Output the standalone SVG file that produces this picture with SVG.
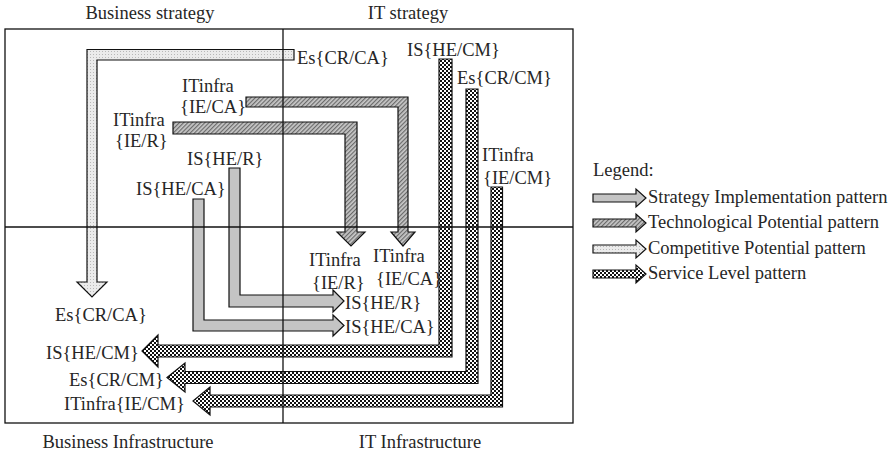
<svg xmlns="http://www.w3.org/2000/svg" width="895" height="452" viewBox="0 0 895 452">
<style>
text{font-family:"Liberation Serif","Times New Roman",serif;font-size:18.5px;fill:#262626}
.ttl{text-anchor:middle}
.frame{fill:none;stroke:#111;stroke-width:1.3}
.arr{stroke:#111;stroke-width:1.2;stroke-linejoin:miter}
.si{fill:#c4c4c4}
.tp{fill:url(#hatch)}
.cp{fill:url(#dots)}
.sl{fill:url(#checker)}
</style>
<defs>
<pattern id="checker" width="4" height="4" patternUnits="userSpaceOnUse">
<rect width="4" height="4" fill="#fff"/>
<rect x="0" y="0" width="2" height="2" fill="#111"/>
<rect x="2" y="2" width="2" height="2" fill="#111"/>
</pattern>
<pattern id="hatch" width="3" height="3" patternUnits="userSpaceOnUse" patternTransform="rotate(45)">
<rect width="3" height="3" fill="#c8c8c8"/>
<rect width="1.2" height="3" fill="#6a6a6a"/>
</pattern>
<pattern id="dots" width="3" height="3" patternUnits="userSpaceOnUse">
<rect width="3" height="3" fill="#ebebeb"/>
<rect width="1" height="1" fill="#b8b8b8"/>
</pattern>
</defs>

<g id="connectors">
<path class="arr cp" d="M294,49.5 L87,49.5 L87,282 L77,282 L92,297 L107,282 L97,282 L97,60 L294,60 Z"/>
<path class="arr tp" d="M246,97 L408,97 L408,232 L415,232 L403,246 L391,232 L398,232 L398,107 L246,107 Z"/>
<path class="arr tp" d="M173,122 L357,122 L357,232 L365,232 L351,246 L337,232 L345,232 L345,134 L173,134 Z"/>
<path class="arr si" d="M229,168 L240,168 L240,295 L333,295 L333,290 L344,301 L333,312 L333,307 L229,307 Z"/>
<path class="arr si" d="M193,199 L204,199 L204,320 L333,320 L333,315 L344,325.5 L333,336 L333,331 L193,331 Z"/>
<path class="arr sl" d="M439,59 L452,59 L452,357 L158,357 L158,367 L142,351 L158,335 L158,345 L439,345 Z"/>
<path class="arr sl" d="M466,89 L478,89 L478,383.5 L185,383.5 L185,392 L167,377.5 L185,363 L185,371.5 L466,371.5 Z"/>
<path class="arr sl" d="M491,187 L502.5,187 L502.5,407 L210,407 L210,415 L193,401 L210,387 L210,395 L491,395 Z"/>
</g>

<g id="frame">
<rect class="frame" x="5" y="29" width="568" height="394"/>
<line class="frame" x1="283" y1="29" x2="283" y2="423"/>
<line class="frame" x1="5" y1="227" x2="573" y2="227"/>
</g>

<g id="quadrant-titles">
<text class="ttl" x="150" y="19">Business strategy</text>
<text class="ttl" x="408" y="19">IT strategy</text>
<text class="ttl" x="128" y="448">Business Infrastructure</text>
<text class="ttl" x="420" y="448">IT Infrastructure</text>
</g>

<g id="src-es-cr-ca"><text x="297" y="64">Es{CR/CA}</text></g>
<g id="src-itinfra-ie-ca"><text x="182" y="92">ITinfra</text><text x="180" y="113">{IE/CA}</text></g>
<g id="src-itinfra-ie-r"><text x="113" y="126">ITinfra</text><text x="115" y="147">{IE/R}</text></g>
<g id="src-is-he-r"><text x="187" y="165">IS{HE/R}</text></g>
<g id="src-is-he-ca"><text x="136" y="195">IS{HE/CA}</text></g>
<g id="src-is-he-cm"><text x="407" y="56">IS{HE/CM}</text></g>
<g id="src-es-cr-cm"><text x="457" y="84">Es{CR/CM}</text></g>
<g id="src-itinfra-ie-cm"><text x="482" y="161">ITinfra</text><text x="483" y="184">{IE/CM}</text></g>

<g id="dst-itinfra-ie-r"><text x="309" y="266">ITinfra</text><text x="312" y="289">{IE/R}</text></g>
<g id="dst-itinfra-ie-ca"><text x="373" y="262">ITinfra</text><text x="376" y="285">{IE/CA}</text></g>
<g id="dst-is-he-r"><text x="345" y="309">IS{HE/R}</text></g>
<g id="dst-is-he-ca"><text x="345" y="333">IS{HE/CA}</text></g>
<g id="dst-es-cr-ca"><text x="55" y="321">Es{CR/CA}</text></g>
<g id="dst-is-he-cm"><text x="46" y="359">IS{HE/CM}</text></g>
<g id="dst-es-cr-cm"><text x="69" y="386">Es{CR/CM}</text></g>
<g id="dst-itinfra-ie-cm"><text x="64" y="410">ITinfra{IE/CM}</text></g>

<g id="legend">
<text x="593" y="176">Legend:</text>
<path class="arr si" d="M593,194 L636,194 L636,189 L646,198 L636,207 L636,202 L593,202 Z"/>
<text x="648" y="203">Strategy Implementation pattern</text>
<path class="arr tp" d="M593,219 L636,219 L636,214 L646,223 L636,232 L636,227 L593,227 Z"/>
<text x="648" y="228">Technological Potential pattern</text>
<path class="arr cp" d="M593,245 L636,245 L636,240 L646,249 L636,258 L636,253 L593,253 Z"/>
<text x="648" y="254">Competitive Potential pattern</text>
<path class="arr sl" d="M593,270 L636,270 L636,265 L646,274 L636,283 L636,278 L593,278 Z"/>
<text x="648" y="279">Service Level pattern</text>
</g>
</svg>
